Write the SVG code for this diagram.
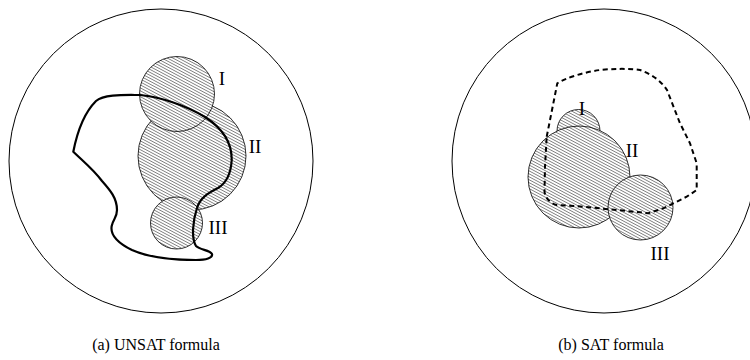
<svg xmlns="http://www.w3.org/2000/svg" width="750" height="360" viewBox="0 0 750 360">
<style>
.outer{fill:none;stroke:#000;stroke-width:1}
.set{fill:url(#hatch);stroke:#000;stroke-width:0.8}
.lbl{font-family:"Liberation Serif","Times New Roman",serif;font-size:19px;fill:#000;text-anchor:middle}
.cap{font-family:"Liberation Serif","Times New Roman",serif;font-size:16px;fill:#000;text-anchor:middle}
.solid{fill:none;stroke:#000;stroke-width:2.2;stroke-linejoin:round}
.dash{fill:none;stroke:#000;stroke-width:2;stroke-dasharray:5 3.5}
</style>
<defs>
<pattern id="hatch" patternUnits="userSpaceOnUse" width="8" height="2.6" patternTransform="rotate(28)">
<rect width="8" height="2.6" fill="#fff"/>
<line x1="0" y1="1.3" x2="8" y2="1.3" stroke="#333" stroke-width="0.6"/>
</pattern>
</defs>
<g id="panel-a">
<circle class="outer" cx="161" cy="161" r="152"/>
<g id="a-II"><circle class="set" cx="192" cy="156" r="54"/><text class="lbl" x="255" y="153">II</text></g>
<g id="a-I"><circle class="set" cx="177" cy="94" r="37.5"/><text class="lbl" x="222" y="85">I</text></g>
<g id="a-III"><circle class="set" cx="176.5" cy="223" r="26"/><text class="lbl" x="218" y="234">III</text></g>
</g>
<g id="panel-b">
<circle class="outer" cx="604" cy="161" r="152"/>
<g id="b-I"><circle class="set" cx="578.5" cy="131" r="21.5"/><text class="lbl" x="582" y="115">I</text></g>
<g id="b-II"><circle class="set" cx="579" cy="177" r="51"/><text class="lbl" x="632" y="157">II</text></g>
<g id="b-III"><circle class="set" cx="640.5" cy="207.5" r="32.5"/><text class="lbl" x="660" y="260">III</text></g>
</g>
<g id="connectors">
<path class="solid" d="M73.3,151.7 C76,138 82,115 96,101 C104,94 125,95 140,95 C160,97 185,105 205,117 C222,128 232,143 231.7,160 C231,172 228,182 218,188 C208,193 200,198 197,208 C193,220 191,238 196,246 C200,250 210,250 212,254 C213,258 206,260 196,260 C175,260 150,258 132,250 C118,243 110,235 111.7,226 C113,219 117,218 117,210 C117,198 110,190 102,181 C94,170 84,162 73.3,151.7 Z"/>
<path class="dash" d="M546.7,136.7 L557.3,83.3 C565,78 585,72 600,70 C615,68.5 630,68.5 640,70 C652,74 662,82 667,90 L680,123.3 L690,143.3 L696.7,163.3 L696.7,190 L686.7,196.7 L663.3,208.3 L648.3,213.3 L640,212.3 L583.3,206.7 L556.7,205 C550,203 546,199 544.5,192 L545,166.7 Z"/>
</g>
<text class="cap" x="156" y="350">(a) UNSAT formula</text>
<text class="cap" x="611" y="350">(b) SAT formula</text>
</svg>
